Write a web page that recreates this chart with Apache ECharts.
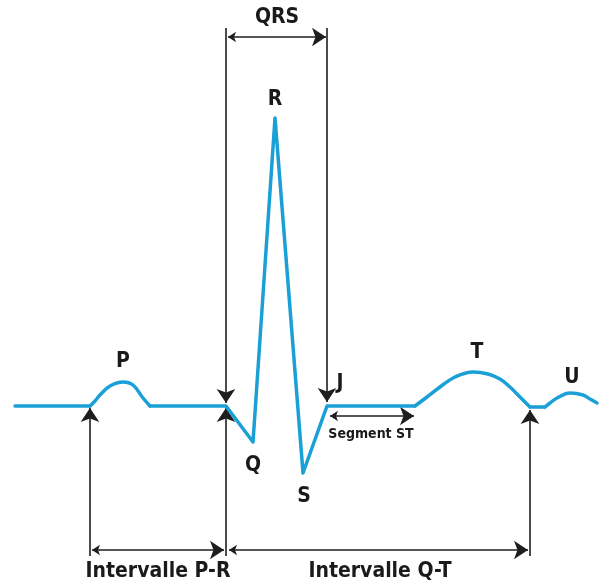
<!DOCTYPE html>
<html><head><meta charset="utf-8">
<script src="https://cdn.jsdelivr.net/npm/echarts@6/dist/echarts.min.js"></script>
<style>html,body{margin:0;padding:0;background:#fff}#c{width:606px;height:584px}</style>
</head><body><div id="c"></div>
<script>
// ECG trace: [time, amplitude] (amplitude 0 = isoelectric baseline)
const baseBefore = [[15,0],[90,0]];
const pWave = [[90,0],[95,5],[100,11],[110,20],[123,24],[133,21],[143,8],[150,0]];
const prQrsSt = [[150,0],[226,0],[253,-36],[275,288],[303,-67],[327,0],[415,0]];
const tWave = [[415,0],[427,9],[440,19],[455,29],[473,34],[488,32],[500,27],[510,19],[517,12],[524,5],[530,-1]];
const tuSeg = [[530,-1],[545,-1]];
const uWave = [[545,-1],[550,3],[557,8],[570,13],[583,11],[590,7],[597,3]];

// annotation arrows: [x1,y1,x2,y2]
const downArrows = [[226,378,226,3],[327,378,327,4]];
const upArrows = [[90,-150,90,-2],[226,-150,226,-2],[530,-150,530,-4]];
const doubleArrows = [[228,369,326,369],[92,-144,224,-144],[229,-144,528,-144],[330,-10,414,-10]];

// labels: [x, y, text]
const bigLabels = [[123,44,'P'],[275,306,'R'],[253,-60,'Q'],[304,-91,'S'],[340,22,'J'],[477,53,'T'],[572,28,'U'],[277,388,'QRS']];
const intervalLabels = [[158,-166,'Intervalle P-R'],[380,-166,'Intervalle Q-T']];
const smallLabels = [[371,-28,'Segment ST']];

const FONT = '"DejaVu Sans Condensed","Liberation Sans Narrow",sans-serif';
const TRACE = '#1aa0d6';
const INK = '#1e1e1e';

function traceSeries(d, smooth){
  return {type:'line', data:d, smooth:smooth, symbol:'none', silent:true,
    lineStyle:{color:TRACE, width:3.5, cap:'round', join:'round'}, z:3};
}
function arrowSeries(list, sym){
  return {type:'lines', coordinateSystem:'cartesian2d', silent:true,
    symbol:sym, symbolSize:[8,14],
    lineStyle:{color:INK, width:1.6, opacity:1},
    data:list.map(a=>({coords:[[a[0],a[1]],[a[2],a[3]]]})), z:2};
}
function labelSeries(list, size){
  return {type:'scatter', symbolSize:0, silent:true, z:4,
    itemStyle:{opacity:1},
    data:list.map(l=>({value:[l[0],l[1]], name:l[2]})),
    label:{show:true, position:'inside', formatter:p=>p.name, opacity:1,
      color:'#1a1a1a', fontFamily:FONT, fontWeight:'bold', fontSize:size}};
}

const chart = echarts.init(document.getElementById('c'));
chart.setOption({
  animation:false,
  backgroundColor:'#fff',
  grid:{left:0,right:0,top:0,bottom:0},
  xAxis:{type:'value',min:0,max:606,show:false},
  yAxis:{type:'value',min:-178,max:406,show:false},
  series:[
    traceSeries(baseBefore,false),
    traceSeries(pWave,0.4),
    traceSeries(prQrsSt,false),
    traceSeries(tWave,0.4),
    traceSeries(tuSeg,false),
    traceSeries(uWave,0.4),
    arrowSeries(downArrows,['none','arrow']),
    arrowSeries(upArrows,['none','arrow']),
    arrowSeries(doubleArrows,['arrow','arrow']),
    labelSeries(bigLabels,21),
    labelSeries(intervalLabels,21),
    labelSeries(smallLabels,14)
  ]
});
</script></body></html>
